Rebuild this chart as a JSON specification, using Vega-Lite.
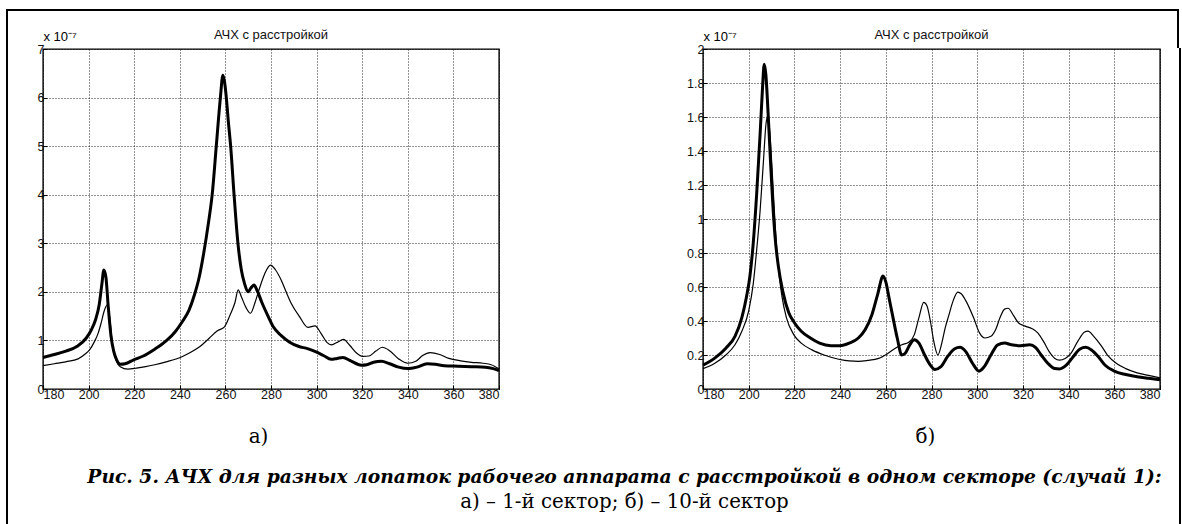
{
  "$schema": "https://vega.github.io/schema/vega-lite/v6.json",
  "background": "white",
  "autosize": {"type": "none"},
  "padding": {"left": 7, "top": 10, "right": 1175, "bottom": 514},
  "config": {
    "view": {"stroke": "transparent", "strokeWidth": 0},
    "axis": {
      "labelFont": "Liberation Sans", "labelFontSize": 12.5, "labelColor": "#111111",
      "domain": false, "grid": true, "gridColor": "#000000", "gridOpacity": 0.85, "gridDash": [1, 2], "gridWidth": 1,
      "tickColor": "black", "tickSize": -4, "labelPadding": 3, "titleColor": "black"
    },
    "line": {"interpolate": "monotone", "color": "black"}
  },
  "datasets": {
    "a": [
      {"s": "thick", "f": 180, "v": 0.65}, {"s": "thick", "f": 185, "v": 0.71}, {"s": "thick", "f": 190, "v": 0.78},
      {"s": "thick", "f": 195, "v": 0.88}, {"s": "thick", "f": 199, "v": 1.05}, {"s": "thick", "f": 201, "v": 1.2},
      {"s": "thick", "f": 203, "v": 1.42}, {"s": "thick", "f": 204.7, "v": 1.75}, {"s": "thick", "f": 205.8, "v": 2.15},
      {"s": "thick", "f": 206.7, "v": 2.45}, {"s": "thick", "f": 207.6, "v": 2.3}, {"s": "thick", "f": 208.6, "v": 1.7},
      {"s": "thick", "f": 209.8, "v": 1.1}, {"s": "thick", "f": 211, "v": 0.78}, {"s": "thick", "f": 212.3, "v": 0.6},
      {"s": "thick", "f": 214, "v": 0.51}, {"s": "thick", "f": 216, "v": 0.52}, {"s": "thick", "f": 219.8, "v": 0.6},
      {"s": "thick", "f": 224, "v": 0.68}, {"s": "thick", "f": 229, "v": 0.82}, {"s": "thick", "f": 234, "v": 0.99},
      {"s": "thick", "f": 238, "v": 1.18}, {"s": "thick", "f": 241, "v": 1.38}, {"s": "thick", "f": 244, "v": 1.62},
      {"s": "thick", "f": 246.5, "v": 1.95}, {"s": "thick", "f": 248.5, "v": 2.3}, {"s": "thick", "f": 250.5, "v": 2.8},
      {"s": "thick", "f": 252.5, "v": 3.4}, {"s": "thick", "f": 254.2, "v": 4.0}, {"s": "thick", "f": 256, "v": 5.0},
      {"s": "thick", "f": 257.8, "v": 6.0}, {"s": "thick", "f": 258.9, "v": 6.46}, {"s": "thick", "f": 259.7, "v": 6.3},
      {"s": "thick", "f": 260.4, "v": 6.0}, {"s": "thick", "f": 261.3, "v": 5.5}, {"s": "thick", "f": 262.3, "v": 5.0},
      {"s": "thick", "f": 263.8, "v": 4.0}, {"s": "thick", "f": 265.5, "v": 3.0}, {"s": "thick", "f": 267, "v": 2.45},
      {"s": "thick", "f": 268.4, "v": 2.17}, {"s": "thick", "f": 269.9, "v": 2.0}, {"s": "thick", "f": 271.2, "v": 2.08},
      {"s": "thick", "f": 272.5, "v": 2.14}, {"s": "thick", "f": 274, "v": 2.02}, {"s": "thick", "f": 276, "v": 1.78},
      {"s": "thick", "f": 278.7, "v": 1.5}, {"s": "thick", "f": 281, "v": 1.28}, {"s": "thick", "f": 284.5, "v": 1.1},
      {"s": "thick", "f": 288, "v": 0.97}, {"s": "thick", "f": 292, "v": 0.88}, {"s": "thick", "f": 296, "v": 0.83},
      {"s": "thick", "f": 299.5, "v": 0.77}, {"s": "thick", "f": 303, "v": 0.69}, {"s": "thick", "f": 306.4, "v": 0.61},
      {"s": "thick", "f": 309, "v": 0.63}, {"s": "thick", "f": 311.5, "v": 0.65}, {"s": "thick", "f": 315, "v": 0.58},
      {"s": "thick", "f": 319.6, "v": 0.49}, {"s": "thick", "f": 322, "v": 0.5}, {"s": "thick", "f": 325, "v": 0.55},
      {"s": "thick", "f": 328.4, "v": 0.57}, {"s": "thick", "f": 332, "v": 0.52}, {"s": "thick", "f": 336, "v": 0.45},
      {"s": "thick", "f": 340, "v": 0.42}, {"s": "thick", "f": 344, "v": 0.45}, {"s": "thick", "f": 348.5, "v": 0.52},
      {"s": "thick", "f": 352, "v": 0.51}, {"s": "thick", "f": 356, "v": 0.48}, {"s": "thick", "f": 362, "v": 0.47},
      {"s": "thick", "f": 368, "v": 0.46}, {"s": "thick", "f": 374, "v": 0.45}, {"s": "thick", "f": 377.5, "v": 0.42},
      {"s": "thick", "f": 380, "v": 0.38},

      {"s": "thin", "f": 180, "v": 0.48}, {"s": "thin", "f": 185, "v": 0.52}, {"s": "thin", "f": 190, "v": 0.56},
      {"s": "thin", "f": 195.4, "v": 0.62}, {"s": "thin", "f": 198.5, "v": 0.72}, {"s": "thin", "f": 200.5, "v": 0.81},
      {"s": "thin", "f": 202.5, "v": 0.97}, {"s": "thin", "f": 204.2, "v": 1.15}, {"s": "thin", "f": 205.5, "v": 1.36},
      {"s": "thin", "f": 206.8, "v": 1.6}, {"s": "thin", "f": 208.2, "v": 1.73}, {"s": "thin", "f": 209.3, "v": 1.45},
      {"s": "thin", "f": 210.5, "v": 0.9}, {"s": "thin", "f": 212, "v": 0.6}, {"s": "thin", "f": 213.9, "v": 0.46},
      {"s": "thin", "f": 217.2, "v": 0.41}, {"s": "thin", "f": 221, "v": 0.43}, {"s": "thin", "f": 225, "v": 0.46},
      {"s": "thin", "f": 229, "v": 0.5}, {"s": "thin", "f": 234, "v": 0.56}, {"s": "thin", "f": 240.7, "v": 0.66},
      {"s": "thin", "f": 245, "v": 0.76}, {"s": "thin", "f": 249, "v": 0.88}, {"s": "thin", "f": 253, "v": 1.05},
      {"s": "thin", "f": 256.5, "v": 1.2}, {"s": "thin", "f": 259.6, "v": 1.28}, {"s": "thin", "f": 262, "v": 1.52},
      {"s": "thin", "f": 264.2, "v": 1.78}, {"s": "thin", "f": 265.6, "v": 2.04}, {"s": "thin", "f": 267, "v": 1.9},
      {"s": "thin", "f": 269, "v": 1.68}, {"s": "thin", "f": 271, "v": 1.56}, {"s": "thin", "f": 273, "v": 1.78},
      {"s": "thin", "f": 275, "v": 2.08}, {"s": "thin", "f": 277.3, "v": 2.38}, {"s": "thin", "f": 279.8, "v": 2.55},
      {"s": "thin", "f": 282, "v": 2.45}, {"s": "thin", "f": 284.5, "v": 2.24}, {"s": "thin", "f": 286.8, "v": 1.98},
      {"s": "thin", "f": 288.9, "v": 1.76}, {"s": "thin", "f": 292.5, "v": 1.49}, {"s": "thin", "f": 296.2, "v": 1.27},
      {"s": "thin", "f": 299.3, "v": 1.3}, {"s": "thin", "f": 302, "v": 1.14}, {"s": "thin", "f": 304.5, "v": 0.96},
      {"s": "thin", "f": 306.6, "v": 0.91}, {"s": "thin", "f": 309, "v": 0.96}, {"s": "thin", "f": 311.8, "v": 1.02},
      {"s": "thin", "f": 314.5, "v": 0.9}, {"s": "thin", "f": 317.5, "v": 0.74}, {"s": "thin", "f": 320.3, "v": 0.67},
      {"s": "thin", "f": 323, "v": 0.68}, {"s": "thin", "f": 326, "v": 0.78}, {"s": "thin", "f": 328.8, "v": 0.86},
      {"s": "thin", "f": 332, "v": 0.79}, {"s": "thin", "f": 336, "v": 0.62}, {"s": "thin", "f": 340, "v": 0.53},
      {"s": "thin", "f": 343.5, "v": 0.57}, {"s": "thin", "f": 346.5, "v": 0.69}, {"s": "thin", "f": 349.8, "v": 0.75},
      {"s": "thin", "f": 354, "v": 0.71}, {"s": "thin", "f": 358, "v": 0.63}, {"s": "thin", "f": 363.2, "v": 0.58},
      {"s": "thin", "f": 368, "v": 0.55}, {"s": "thin", "f": 373, "v": 0.53}, {"s": "thin", "f": 376.6, "v": 0.5},
      {"s": "thin", "f": 380, "v": 0.41}
    ],
    "b": [
      {"s": "thick", "f": 180, "v": 0.14}, {"s": "thick", "f": 185, "v": 0.18}, {"s": "thick", "f": 190, "v": 0.24},
      {"s": "thick", "f": 194, "v": 0.31}, {"s": "thick", "f": 197, "v": 0.42}, {"s": "thick", "f": 199, "v": 0.54},
      {"s": "thick", "f": 200.5, "v": 0.66}, {"s": "thick", "f": 202, "v": 0.86}, {"s": "thick", "f": 203.5, "v": 1.15},
      {"s": "thick", "f": 205, "v": 1.5}, {"s": "thick", "f": 206, "v": 1.76}, {"s": "thick", "f": 206.8, "v": 1.91},
      {"s": "thick", "f": 207.5, "v": 1.85}, {"s": "thick", "f": 208.5, "v": 1.62}, {"s": "thick", "f": 209.5, "v": 1.35},
      {"s": "thick", "f": 210.5, "v": 1.1}, {"s": "thick", "f": 211.5, "v": 0.9}, {"s": "thick", "f": 213, "v": 0.72},
      {"s": "thick", "f": 215, "v": 0.57}, {"s": "thick", "f": 217.5, "v": 0.45}, {"s": "thick", "f": 220, "v": 0.39},
      {"s": "thick", "f": 223, "v": 0.34}, {"s": "thick", "f": 227, "v": 0.3}, {"s": "thick", "f": 231, "v": 0.27},
      {"s": "thick", "f": 236, "v": 0.255}, {"s": "thick", "f": 240, "v": 0.255}, {"s": "thick", "f": 244, "v": 0.27},
      {"s": "thick", "f": 248, "v": 0.3}, {"s": "thick", "f": 251, "v": 0.35}, {"s": "thick", "f": 254, "v": 0.44},
      {"s": "thick", "f": 256.5, "v": 0.56}, {"s": "thick", "f": 258.8, "v": 0.665}, {"s": "thick", "f": 260, "v": 0.63},
      {"s": "thick", "f": 261.5, "v": 0.53}, {"s": "thick", "f": 263, "v": 0.43}, {"s": "thick", "f": 265, "v": 0.3},
      {"s": "thick", "f": 267, "v": 0.2}, {"s": "thick", "f": 268.5, "v": 0.21}, {"s": "thick", "f": 270.5, "v": 0.26},
      {"s": "thick", "f": 272.5, "v": 0.29}, {"s": "thick", "f": 274.5, "v": 0.27}, {"s": "thick", "f": 277, "v": 0.2},
      {"s": "thick", "f": 279.5, "v": 0.14}, {"s": "thick", "f": 281.5, "v": 0.115}, {"s": "thick", "f": 284, "v": 0.13},
      {"s": "thick", "f": 287, "v": 0.19}, {"s": "thick", "f": 290, "v": 0.235}, {"s": "thick", "f": 292.5, "v": 0.245},
      {"s": "thick", "f": 295, "v": 0.22}, {"s": "thick", "f": 298, "v": 0.15}, {"s": "thick", "f": 300.8, "v": 0.105},
      {"s": "thick", "f": 303, "v": 0.13}, {"s": "thick", "f": 306, "v": 0.2}, {"s": "thick", "f": 309, "v": 0.26},
      {"s": "thick", "f": 312, "v": 0.27}, {"s": "thick", "f": 315, "v": 0.26}, {"s": "thick", "f": 319, "v": 0.255},
      {"s": "thick", "f": 323, "v": 0.26}, {"s": "thick", "f": 325.5, "v": 0.245}, {"s": "thick", "f": 328, "v": 0.2},
      {"s": "thick", "f": 331, "v": 0.15}, {"s": "thick", "f": 334, "v": 0.12}, {"s": "thick", "f": 336, "v": 0.118},
      {"s": "thick", "f": 339, "v": 0.14}, {"s": "thick", "f": 342, "v": 0.19}, {"s": "thick", "f": 345, "v": 0.235},
      {"s": "thick", "f": 347.5, "v": 0.245}, {"s": "thick", "f": 350, "v": 0.23}, {"s": "thick", "f": 353, "v": 0.19},
      {"s": "thick", "f": 356, "v": 0.14}, {"s": "thick", "f": 360, "v": 0.105}, {"s": "thick", "f": 365, "v": 0.085},
      {"s": "thick", "f": 370, "v": 0.072}, {"s": "thick", "f": 375, "v": 0.063}, {"s": "thick", "f": 380, "v": 0.055},

      {"s": "thin", "f": 180, "v": 0.12}, {"s": "thin", "f": 185, "v": 0.15}, {"s": "thin", "f": 190, "v": 0.2},
      {"s": "thin", "f": 194, "v": 0.26}, {"s": "thin", "f": 197, "v": 0.34}, {"s": "thin", "f": 200, "v": 0.46},
      {"s": "thin", "f": 202, "v": 0.62}, {"s": "thin", "f": 203.5, "v": 0.82}, {"s": "thin", "f": 205, "v": 1.05},
      {"s": "thin", "f": 206.5, "v": 1.35}, {"s": "thin", "f": 207.5, "v": 1.55}, {"s": "thin", "f": 208.4, "v": 1.61},
      {"s": "thin", "f": 209.3, "v": 1.5}, {"s": "thin", "f": 210.2, "v": 1.3}, {"s": "thin", "f": 211.3, "v": 1.03},
      {"s": "thin", "f": 212.4, "v": 0.8}, {"s": "thin", "f": 213.5, "v": 0.65}, {"s": "thin", "f": 214.6, "v": 0.54},
      {"s": "thin", "f": 216.5, "v": 0.42}, {"s": "thin", "f": 219.7, "v": 0.32}, {"s": "thin", "f": 223, "v": 0.27},
      {"s": "thin", "f": 227.7, "v": 0.23}, {"s": "thin", "f": 233, "v": 0.2}, {"s": "thin", "f": 239.4, "v": 0.175},
      {"s": "thin", "f": 244, "v": 0.165}, {"s": "thin", "f": 248, "v": 0.163}, {"s": "thin", "f": 252, "v": 0.168},
      {"s": "thin", "f": 256.9, "v": 0.18}, {"s": "thin", "f": 261, "v": 0.21}, {"s": "thin", "f": 264.2, "v": 0.24},
      {"s": "thin", "f": 267, "v": 0.26}, {"s": "thin", "f": 270, "v": 0.275}, {"s": "thin", "f": 272.5, "v": 0.32},
      {"s": "thin", "f": 274.5, "v": 0.42}, {"s": "thin", "f": 276.6, "v": 0.51}, {"s": "thin", "f": 278, "v": 0.49},
      {"s": "thin", "f": 279.5, "v": 0.4}, {"s": "thin", "f": 281, "v": 0.28}, {"s": "thin", "f": 282.8, "v": 0.2},
      {"s": "thin", "f": 284.5, "v": 0.27}, {"s": "thin", "f": 286, "v": 0.36}, {"s": "thin", "f": 287.5, "v": 0.43},
      {"s": "thin", "f": 289.5, "v": 0.52}, {"s": "thin", "f": 291.5, "v": 0.57}, {"s": "thin", "f": 293, "v": 0.56},
      {"s": "thin", "f": 295, "v": 0.52}, {"s": "thin", "f": 298.4, "v": 0.42}, {"s": "thin", "f": 301, "v": 0.33},
      {"s": "thin", "f": 303.3, "v": 0.3}, {"s": "thin", "f": 306, "v": 0.31}, {"s": "thin", "f": 308.1, "v": 0.35},
      {"s": "thin", "f": 310, "v": 0.42}, {"s": "thin", "f": 312, "v": 0.47}, {"s": "thin", "f": 313.5, "v": 0.475},
      {"s": "thin", "f": 316, "v": 0.43}, {"s": "thin", "f": 318, "v": 0.39}, {"s": "thin", "f": 321, "v": 0.37},
      {"s": "thin", "f": 324, "v": 0.355}, {"s": "thin", "f": 326.5, "v": 0.33}, {"s": "thin", "f": 329, "v": 0.28},
      {"s": "thin", "f": 331.5, "v": 0.22}, {"s": "thin", "f": 334, "v": 0.18}, {"s": "thin", "f": 336, "v": 0.17},
      {"s": "thin", "f": 338.5, "v": 0.18}, {"s": "thin", "f": 341, "v": 0.21}, {"s": "thin", "f": 344, "v": 0.28},
      {"s": "thin", "f": 347, "v": 0.335}, {"s": "thin", "f": 348.5, "v": 0.34}, {"s": "thin", "f": 351, "v": 0.31},
      {"s": "thin", "f": 354, "v": 0.26}, {"s": "thin", "f": 357, "v": 0.2}, {"s": "thin", "f": 361, "v": 0.15},
      {"s": "thin", "f": 365, "v": 0.12}, {"s": "thin", "f": 370, "v": 0.095}, {"s": "thin", "f": 375, "v": 0.08},
      {"s": "thin", "f": 380, "v": 0.065}
    ],
    "blank": [{"c": ""}]
  },
  "bounds": "flush",
  "spacing": 0,
  "vconcat": [
    {
      "width": 1171,
      "height": 39,
      "view": {"stroke": "black", "strokeWidth": 2, "fill": null, "strokeDash": [1209, 1173, 38]},
      "data": {"name": "blank"},
      "mark": {"type": "text"},
      "encoding": {"text": {"field": "c"}},
      "title": {
        "text": "Рис. 5. АЧХ для разных лопаток рабочего аппарата с расстройкой в одном секторе (случай 1):",
        "subtitle": "а) – 1-й сектор; б) – 10-й сектор",
        "orient": "bottom", "anchor": "middle", "frame": "group", "offset": 419, "dx": 32,
        "font": "DejaVu Serif", "fontSize": 18.7, "fontStyle": "italic", "fontWeight": "bold", "color": "black",
        "subtitleFont": "DejaVu Serif", "subtitleFontSize": 19.8, "subtitleFontStyle": "normal",
        "subtitleFontWeight": "normal", "subtitleColor": "black", "subtitlePadding": 5
      }
    },
    {
      "bounds": "flush",
      "spacing": 5,
      "hconcat": [
        {
          "width": 0.01, "height": 490,
          "view": {"stroke": "black", "strokeWidth": 2},
          "data": {"name": "blank"},
          "mark": {"type": "text"},
          "encoding": {"text": {"field": "c"}}
        },
        {
          "width": 24.7, "height": 0.01,
          "view": {"stroke": "transparent", "strokeWidth": 0},
          "data": {"name": "blank"},
          "mark": {"type": "text"},
          "encoding": {"text": {"field": "c"}}
        },
        {
          "width": 456, "height": 340,
          "view": {"stroke": "black", "strokeWidth": 1.4},
          "title": {"text": "АЧХ с расстройкой", "frame": "group", "offset": -12, "font": "Liberation Sans", "fontSize": 13, "fontWeight": "normal", "color": "#111111"},
          "data": {"name": "a"},
          "mark": {"type": "line"},
          "encoding": {
            "x": {"field": "f", "type": "quantitative",
              "scale": {"domain": [180, 380], "nice": false, "zero": false},
              "axis": {"values": [180, 200, 220, 240, 260, 280, 300, 320, 340, 360, 380], "format": "d",
                "title": "а)", "titleFont": "DejaVu Serif", "titleFontSize": 20, "titleFontWeight": "normal",
                "titlePadding": 26, "titleX": 215, "titleAlign": "center"}},
            "y": {"field": "v", "type": "quantitative",
              "scale": {"domain": [0, 7], "nice": false},
              "axis": {"values": [0, 1, 2, 3, 4, 5, 6, 7], "format": "d",
                "title": "x 10⁻⁷", "titleAngle": 0, "titleX": 0, "titleY": -6, "titleAlign": "left",
                "titleBaseline": "bottom", "titleFont": "Liberation Sans", "titleFontSize": 13, "titleFontWeight": "normal"}},
            "strokeWidth": {"field": "s", "type": "nominal", "scale": {"domain": ["thick", "thin"], "range": [3, 1.2]}, "legend": null}
          }
        },
        {
          "width": 193.3, "height": 0.01,
          "view": {"stroke": "transparent", "strokeWidth": 0},
          "data": {"name": "blank"},
          "mark": {"type": "text"},
          "encoding": {"text": {"field": "c"}}
        },
        {
          "width": 457, "height": 340,
          "view": {"stroke": "black", "strokeWidth": 1.4},
          "title": {"text": "АЧХ с расстройкой", "frame": "group", "offset": -12, "font": "Liberation Sans", "fontSize": 13, "fontWeight": "normal", "color": "#111111"},
          "data": {"name": "b"},
          "mark": {"type": "line"},
          "encoding": {
            "x": {"field": "f", "type": "quantitative",
              "scale": {"domain": [180, 380], "nice": false, "zero": false},
              "axis": {"values": [180, 200, 220, 240, 260, 280, 300, 320, 340, 360, 380], "format": "d",
                "title": "б)", "titleFont": "DejaVu Serif", "titleFontSize": 20, "titleFontWeight": "normal",
                "titlePadding": 26, "titleX": 222, "titleAlign": "center"}},
            "y": {"field": "v", "type": "quantitative",
              "scale": {"domain": [0, 2], "nice": false},
              "axis": {"values": [0, 0.2, 0.4, 0.6, 0.8, 1, 1.2, 1.4, 1.6, 1.8, 2], "format": "~g",
                "title": "x 10⁻⁷", "titleAngle": 0, "titleX": 0, "titleY": -6, "titleAlign": "left",
                "titleBaseline": "bottom", "titleFont": "Liberation Sans", "titleFontSize": 13, "titleFontWeight": "normal"}},
            "strokeWidth": {"field": "s", "type": "nominal", "scale": {"domain": ["thick", "thin"], "range": [3, 1.2]}, "legend": null}
          }
        },
        {
          "width": 10, "height": 0.01,
          "view": {"stroke": "transparent", "strokeWidth": 0},
          "data": {"name": "blank"},
          "mark": {"type": "text"},
          "encoding": {"text": {"field": "c"}}
        },
        {
          "width": 0.01, "height": 490,
          "view": {"stroke": "black", "strokeWidth": 2},
          "data": {"name": "blank"},
          "mark": {"type": "text"},
          "encoding": {"text": {"field": "c"}}
        }
      ]
    }
  ]
}
